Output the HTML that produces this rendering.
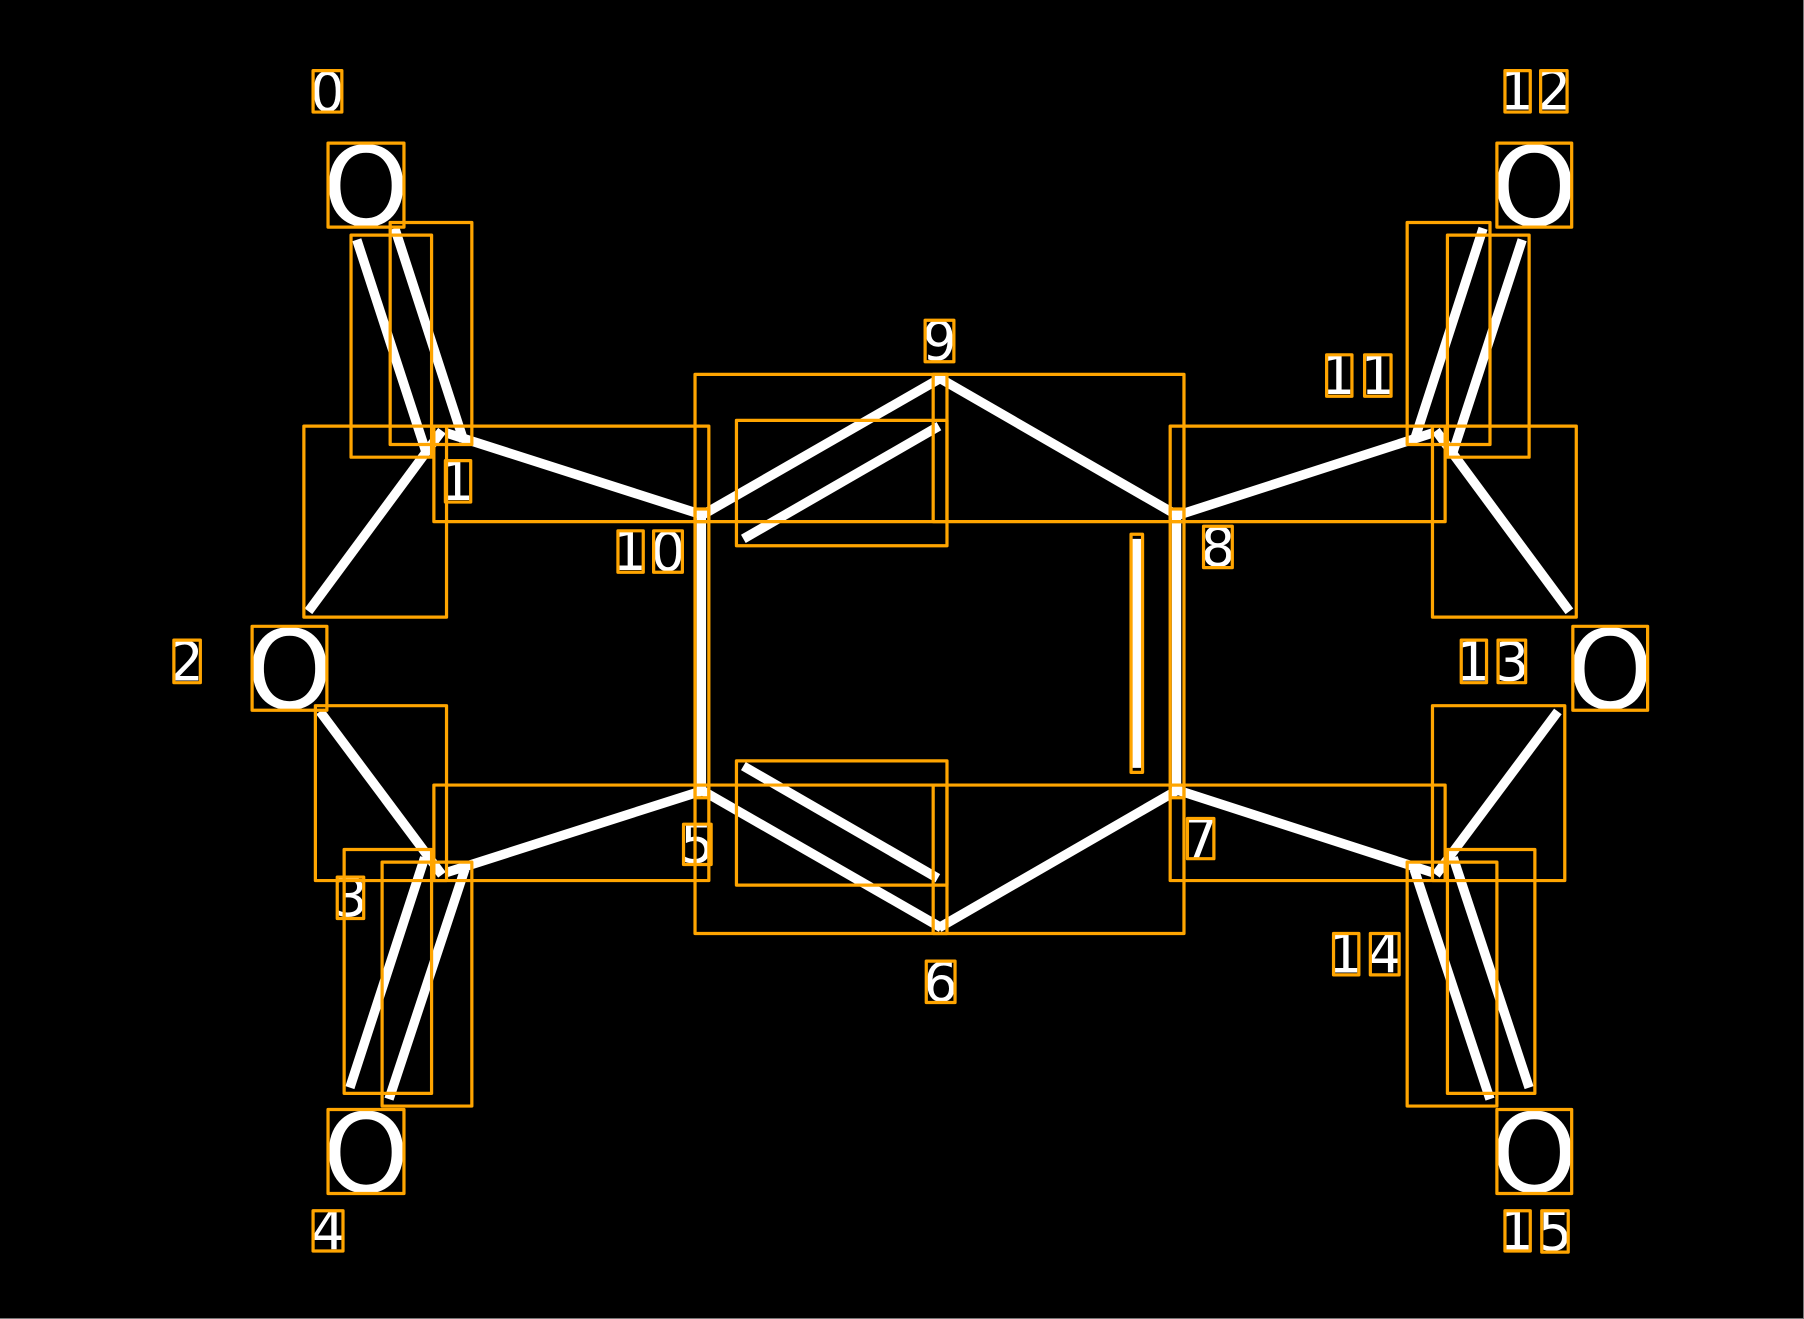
<!DOCTYPE html>
<html>
<head>
<meta charset="utf-8">
<style>
html,body{margin:0;padding:0;background:#000;width:1804px;height:1319px;overflow:hidden}
svg{display:block;position:absolute;left:0;top:0}
.b rect{fill:none;stroke:#ffa500;stroke-width:2.8;stroke-linejoin:round}
.w line{stroke:#fff;stroke-width:8.2;stroke-linecap:butt}
text{font-family:"DejaVu Sans",sans-serif;fill:#fff;text-anchor:middle}
.s{font-size:47px}
.l{font-size:95.6px}
</style>
</head>
<body>
<svg width="1804" height="1319" viewBox="0 0 1568 1146.5" xmlns="http://www.w3.org/2000/svg">
<rect x="0" y="0" width="1568" height="1146.5" fill="#000"/>
<g transform="translate(0.1,0.4)">
<g class="w">
<line x1="310" y1="208" x2="370" y2="392"/>
<line x1="343" y1="198" x2="403" y2="383"/>
<line x1="384" y1="374" x2="268" y2="531"/>
<line x1="388" y1="376" x2="610" y2="447"/>
<line x1="609" y1="448" x2="818" y2="328"/>
<line x1="816" y1="328" x2="1024" y2="448"/>
<line x1="646" y1="468" x2="816" y2="370"/>
<line x1="1022" y1="448" x2="1245" y2="376"/>
<line x1="1229" y1="383" x2="1289" y2="198"/>
<line x1="1263" y1="392" x2="1323" y2="208"/>
<line x1="1248" y1="374" x2="1364" y2="531"/>
<line x1="609.5" y1="447" x2="609.5" y2="687"/>
<line x1="1022.5" y1="447" x2="1022.5" y2="687"/>
<line x1="988" y1="468" x2="988" y2="667"/>
<line x1="388" y1="758" x2="610" y2="687"/>
<line x1="609" y1="686" x2="818" y2="806"/>
<line x1="816" y1="806" x2="1024" y2="686"/>
<line x1="646" y1="665.5" x2="815" y2="763"/>
<line x1="1022" y1="686" x2="1245" y2="758"/>
<line x1="278" y1="618" x2="384" y2="760"/>
<line x1="1354" y1="618" x2="1248" y2="760"/>
<line x1="369" y1="745" x2="304" y2="945"/>
<line x1="404" y1="755" x2="338" y2="955"/>
<line x1="1229" y1="755" x2="1295" y2="955"/>
<line x1="1263" y1="745" x2="1329" y2="945"/>
</g>
<g>
<text class="l" x="318" y="195.5">O</text>
<text class="l" x="251.5" y="615.5">O</text>
<text class="l" x="318" y="1035.5">O</text>
<text class="l" x="1333.5" y="195.5">O</text>
<text class="l" x="1399.5" y="615.5">O</text>
<text class="l" x="1333.5" y="1035.5">O</text>
<text class="s" x="284.5" y="96">0</text>
<text class="s" x="397" y="434">1</text>
<text class="s" x="162" y="591">2</text>
<text class="s" x="304.5" y="796">3</text>
<text class="s" x="285" y="1085.5">4</text>
<text class="s" x="606" y="749.5">5</text>
<text class="s" x="817.5" y="869.5">6</text>
<text class="s" x="1043.5" y="745">7</text>
<text class="s" x="1058.5" y="491.5">8</text>
<text class="s" x="816.5" y="312.5">9</text>
<text class="s" x="547" y="495">1</text>
<text class="s" x="580.5" y="495.5">0</text>
<text class="s" x="1163" y="342">1</text>
<text class="s" x="1197.5" y="342">1</text>
<text class="s" x="1318" y="95">1</text>
<text class="s" x="1350.5" y="95">2</text>
<text class="s" x="1280" y="591">1</text>
<text class="s" x="1314" y="591">3</text>
<text class="s" x="1169" y="845">1</text>
<text class="s" x="1203.5" y="845">4</text>
<text class="s" x="1318" y="1085.5">1</text>
<text class="s" x="1351.5" y="1086">5</text>
</g>
<g class="b">
<rect x="272" y="61" width="25" height="36"/>
<rect x="285" y="124" width="66" height="73"/>
<rect x="387" y="400" width="22" height="36"/>
<rect x="151" y="556" width="23" height="37"/>
<rect x="219" y="544" width="65" height="73"/>
<rect x="293" y="762" width="23" height="36"/>
<rect x="272" y="1052" width="26" height="35"/>
<rect x="285" y="964" width="66" height="73"/>
<rect x="594" y="716" width="24" height="35"/>
<rect x="805" y="835" width="25" height="36"/>
<rect x="1032" y="711" width="23" height="35"/>
<rect x="1046" y="457" width="25" height="36"/>
<rect x="804" y="278" width="25" height="36"/>
<rect x="537" y="461" width="22" height="36"/>
<rect x="568" y="461" width="25" height="36"/>
<rect x="1153" y="308" width="22" height="36"/>
<rect x="1186" y="308" width="23" height="36"/>
<rect x="1308" y="61" width="22" height="36"/>
<rect x="1339" y="61" width="23" height="36"/>
<rect x="1301" y="124" width="65" height="73"/>
<rect x="1270" y="556" width="22" height="37"/>
<rect x="1302" y="556" width="24" height="37"/>
<rect x="1367" y="544" width="65" height="73"/>
<rect x="1159" y="811" width="22" height="36"/>
<rect x="1191" y="811" width="25" height="36"/>
<rect x="1308" y="1052" width="22" height="35"/>
<rect x="1340" y="1052" width="23" height="36"/>
<rect x="1301" y="964" width="65" height="73"/>
<rect x="305" y="204" width="70" height="193"/>
<rect x="339" y="193" width="71" height="193"/>
<rect x="264" y="370" width="124" height="166"/>
<rect x="377" y="370" width="239" height="83"/>
<rect x="604" y="325" width="219" height="128"/>
<rect x="811" y="325" width="218" height="128"/>
<rect x="640" y="365" width="183" height="109"/>
<rect x="1017" y="370" width="239" height="83"/>
<rect x="1223" y="193" width="72" height="193"/>
<rect x="1258" y="204" width="71" height="193"/>
<rect x="1245" y="370" width="125" height="166"/>
<rect x="604" y="442" width="12" height="251"/>
<rect x="1017" y="442" width="12" height="251"/>
<rect x="983" y="464" width="10" height="207"/>
<rect x="377" y="682" width="239" height="83"/>
<rect x="604" y="682" width="219" height="129"/>
<rect x="811" y="682" width="218" height="129"/>
<rect x="640" y="661" width="183" height="108"/>
<rect x="1017" y="682" width="239" height="83"/>
<rect x="274" y="613" width="114" height="152"/>
<rect x="1245" y="613" width="115" height="152"/>
<rect x="299" y="738" width="76" height="212"/>
<rect x="332" y="749" width="78" height="212"/>
<rect x="1223" y="749" width="78" height="212"/>
<rect x="1258" y="738" width="76" height="212"/>
</g>
</g>
</svg>
<div style="position:absolute;left:1803px;top:0;width:1px;height:1319px;background:#777"></div>
<div style="position:absolute;left:0;top:1318px;width:1804px;height:1px;background:#777"></div>
</body>
</html>
